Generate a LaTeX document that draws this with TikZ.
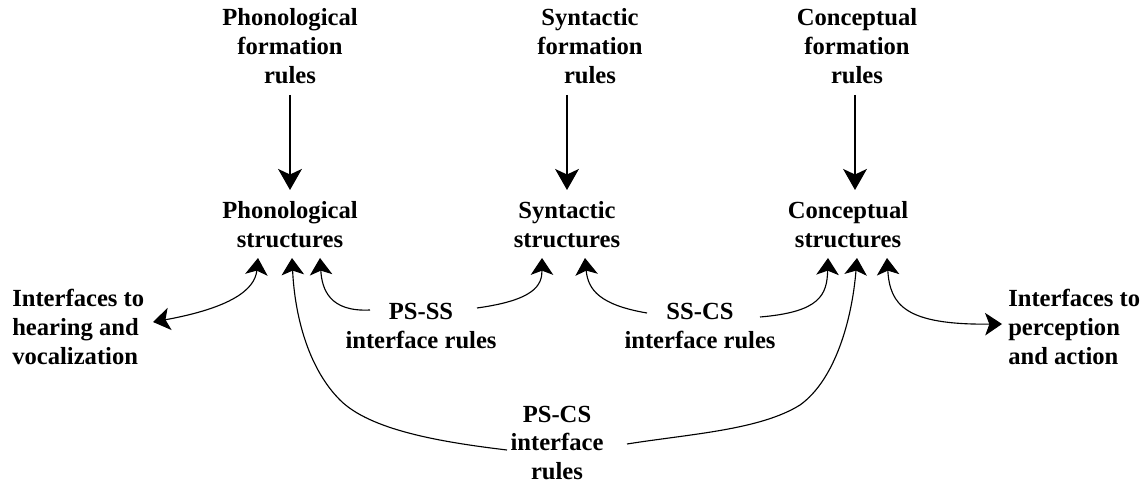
\documentclass[tikz,border=0pt]{standalone}
\usepackage{fontspec}
\setmainfont{Liberation Serif}
\usetikzlibrary{arrows.meta}
\begin{document}
\begin{tikzpicture}[x=0.025cm, y=-0.025cm,
  lbl/.style={align=center, inner sep=0pt, font=\fontsize{17.5}{20.6}\selectfont\bfseries},
  lft/.style={align=left, inner sep=0pt, anchor=west, font=\fontsize{17.5}{20.6}\selectfont\bfseries},
  arr/.style={line width=0.8pt, -{Stealth[length=12pt, width=16pt, inset=3pt]}},
  bigarr/.style={line width=0.8pt, -{Stealth[length=15pt, width=17pt, inset=4pt]}},
  darr/.style={line width=0.8pt, {Stealth[length=12pt, width=16pt, inset=3pt]}-{Stealth[length=12pt, width=16pt, inset=3pt]}}]
\useasboundingbox (0,0) rectangle (1144,484);
% formation rules
\node[lbl] (phf) at (290,46){Phonological\\formation\\rules};
\node[lbl] (syf) at (590,46){Syntactic\\formation\\rules};
\node[lbl] (cof) at (857,46){Conceptual\\formation\\rules};
% structures
\node[lbl] (phs) at (290,225){Phonological\\structures};
\node[lbl] (sys) at (567,225){Syntactic\\structures};
\node[lbl] (cos) at (848,225){Conceptual\\structures};
% interface rules
\node[lbl] (psss) at (421,326){PS-SS\\interface rules};
\node[lbl] (sscs) at (700,326){SS-CS\\interface rules};
\node[lbl] (pscs) at (557,443){PS-CS\\interface\\rules};
\node[lft] (hear) at (12,327){Interfaces to\\hearing and\\vocalization};
\node[lft] (perc) at (1008,327){Interfaces to\\perception\\and action};
% arrow tips
\coordinate (phsL) at (258,258);
\coordinate (phsM) at (292,258);
\coordinate (phsR) at (320,258);
\coordinate (sysL) at (542,258);
\coordinate (sysR) at (585,258);
\coordinate (cosL) at (828,258);
\coordinate (cosM) at (857,258);
\coordinate (cosR) at (887,258);
\coordinate (phfS) at (290,95);
\coordinate (phsN) at (290,190);
\coordinate (syfS) at (567,95);
\coordinate (sysN) at (567,190);
\coordinate (cofS) at (855,95);
\coordinate (cosN) at (855,190);
% label ends
\coordinate (hearE) at (153,322);
\coordinate (percW) at (1002,324);
\coordinate (psssW) at (370,310);
\coordinate (psssE) at (477,308);
\coordinate (sscsW) at (647,313);
\coordinate (sscsE) at (760,317);
\coordinate (pscsW) at (507,450);
\coordinate (pscsE) at (627,444);
\draw[bigarr](phfS) -- (phsN);
\draw[bigarr](syfS) -- (sysN);
\draw[bigarr](cofS) -- (cosN);
\draw[darr](hearE) .. controls (230,308) and (255,290) .. (phsL);
\draw[arr](psssW) .. controls (330,312) and (322,290) .. (phsR);
\draw[arr](psssE) .. controls (535,300) and (542,285) .. (sysL);
\draw[arr](sscsW) .. controls (600,305) and (588,290) .. (sysR);
\draw[arr](sscsE) .. controls (820,312) and (827,295) .. (cosL);
\draw[darr](cosR) .. controls (890,305) and (905,325) .. (percW);
\draw[arr](pscsW) .. controls (440,442) and (370,430) .. (340,400) .. controls (310,370) and (295,320) .. (phsM);
\draw[arr](pscsE) .. controls (690,434) and (760,430) .. (800,405) .. controls (835,380) and (852,320) .. (cosM);
\end{tikzpicture}
\end{document}
